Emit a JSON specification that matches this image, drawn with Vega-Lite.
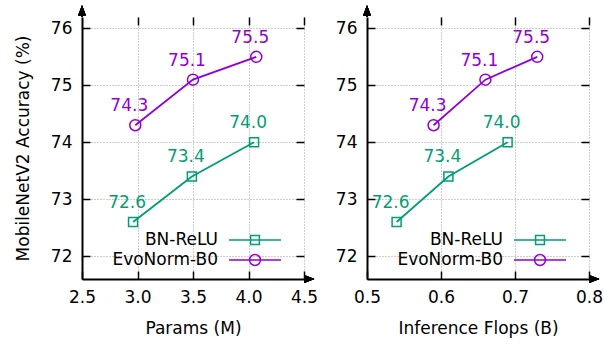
{
  "$schema": "https://vega.github.io/schema/vega-lite/v6.json",
  "padding": {"left": 14, "top": 5, "right": 5, "bottom": 5},
  "background": "white",
  "config": {
    "font": "DejaVu Sans",
    "view": {"stroke": null},
    "axis": {
      "labelFont": "DejaVu Sans", "labelFontSize": 17, "labelColor": "#000", "labelFlush": false, "labelOverlap": false,
      "titleFont": "DejaVu Sans", "titleFontSize": 17, "titleFontWeight": "normal", "titleColor": "#000",
      "domainColor": "#000", "domainWidth": 2, "tickColor": "#000", "tickWidth": 1.5,
      "gridColor": "#9a9a9a", "gridDash": [1, 2], "gridWidth": 1, "gridOpacity": 1
    },
    "legend": {
      "orient": "none", "title": null, "symbolSize": 2704, "symbolStrokeWidth": 1.5, "symbolFillColor": "transparent",
      "labelAlign": "right", "labelOffset": -64, "labelFont": "DejaVu Sans", "labelFontSize": 17, "labelColor": "#000",
      "padding": 0, "labelLimit": 300
    },
    "text": {"font": "DejaVu Sans"}
  },
  "data": {
    "values": [
      {"series": "BN-ReLU", "params": 2.96, "flops": 0.54, "acc": 72.6},
      {"series": "BN-ReLU", "params": 3.49, "flops": 0.61, "acc": 73.4},
      {"series": "BN-ReLU", "params": 4.05, "flops": 0.69, "acc": 74.0},
      {"series": "EvoNorm-B0", "params": 2.98, "flops": 0.59, "acc": 74.3},
      {"series": "EvoNorm-B0", "params": 3.50, "flops": 0.66, "acc": 75.1},
      {"series": "EvoNorm-B0", "params": 4.07, "flops": 0.73, "acc": 75.5}
    ]
  },
  "spacing": 17,
  "resolve": {"scale": {"color": "independent", "stroke": "independent"}, "legend": {"color": "independent", "stroke": "independent"}},
  "hconcat": [
    {
      "width": 222, "height": 262,
      "resolve": {"axis": {"x": "independent", "y": "independent"}},
      "layer": [
        {
          "transform": [{"filter": "datum.series === 'BN-ReLU'"}],
          "mark": {"type": "line", "strokeWidth": 1.8},
          "encoding": {
            "x": {"field": "params", "type": "quantitative", "scale": {"domain": [2.5, 4.5], "nice": false, "zero": false},
                  "axis": {"title": "Params (M)", "orient": "bottom", "values": [2.5, 3, 3.5, 4, 4.5], "format": ".1f", "grid": true, "tickSize": -8, "labelPadding": 18, "titlePadding": 15}},
            "y": {"field": "acc", "type": "quantitative", "scale": {"domain": [71.6, 76.2], "nice": false, "zero": false},
                  "axis": {"title": "MobileNetV2 Accuracy (%)", "orient": "left", "values": [72, 73, 74, 75, 76], "grid": true, "tickSize": -8, "labelPadding": 18, "titlePadding": 18}},
            "color": {"field": "series", "type": "nominal", "scale": {"domain": ["BN-ReLU"], "range": ["#009e73"]},
                      "legend": {"legendX": 146, "legendY": 196, "symbolType": "M-1,0H1M-0.17,-0.17H0.17V0.17H-0.17Z"}}
          }
        },
        {
          "transform": [{"filter": "datum.series === 'EvoNorm-B0'"}],
          "mark": {"type": "line", "strokeWidth": 1.8},
          "encoding": {
            "x": {"field": "params", "type": "quantitative", "axis": null},
            "y": {"field": "acc", "type": "quantitative", "axis": null},
            "stroke": {"field": "series", "type": "nominal", "scale": {"domain": ["EvoNorm-B0"], "range": ["#9400d3"]},
                      "legend": {"legendX": 146, "legendY": 216, "symbolType": "M-1,0H1M0.21,0A0.21,0.21,0,1,1,-0.21,0A0.21,0.21,0,1,1,0.21,0"}}
          }
        },
        {
          "mark": {"type": "point", "filled": false, "strokeWidth": 1.5, "opacity": 1},
          "encoding": {
            "x": {"field": "params", "type": "quantitative", "axis": {"orient": "top", "title": null, "labels": false, "domain": false, "grid": false, "values": [3, 3.5, 4, 4.5], "tickSize": -8}},
            "y": {"field": "acc", "type": "quantitative", "axis": {"orient": "right", "title": null, "labels": false, "domain": false, "grid": false, "values": [72, 73, 74, 75, 76], "tickSize": -8}},
            "color": {"condition": {"test": "datum.series === 'BN-ReLU'", "value": "#009e73"}, "value": "#9400d3"},
            "shape": {"condition": {"test": "datum.series === 'BN-ReLU'", "value": "square"}, "value": "circle"},
            "size": {"condition": {"test": "datum.series === 'BN-ReLU'", "value": 81}, "value": 121}
          }
        },
        {
          "mark": {"type": "text", "dx": -6, "dy": -14, "baseline": "alphabetic", "align": "center", "fontSize": 17},
          "encoding": {
            "x": {"field": "params", "type": "quantitative", "axis": null},
            "y": {"field": "acc", "type": "quantitative", "axis": null},
            "text": {"field": "acc", "type": "quantitative", "format": ".1f"},
            "color": {"condition": {"test": "datum.series === 'BN-ReLU'", "value": "#009e73"}, "value": "#9400d3"}
          }
        },
        {
          "mark": {"type": "rule", "strokeWidth": 2, "color": "#000"},
          "encoding": {"x": {"datum": 2.5, "type": "quantitative", "axis": null}, "y": {"datum": 76.2, "type": "quantitative", "axis": null}, "y2": {"datum": 76.33}}
        },
        {
          "mark": {"type": "point", "shape": "M0,-0.9L0.65,0.8L-0.65,0.8Z", "filled": true, "color": "#000", "size": 144, "opacity": 1},
          "encoding": {"x": {"datum": 2.5, "type": "quantitative", "axis": null}, "y": {"datum": 76.31, "type": "quantitative", "axis": null}}
        },
        {
          "mark": {"type": "rule", "strokeWidth": 2, "color": "#000"},
          "encoding": {"x": {"datum": 4.5, "type": "quantitative", "axis": null}, "x2": {"datum": 4.536}, "y": {"datum": 71.6, "type": "quantitative", "axis": null}}
        },
        {
          "mark": {"type": "point", "shape": "M0.9,0L-0.8,0.65L-0.8,-0.65Z", "filled": true, "color": "#000", "size": 144, "opacity": 1},
          "encoding": {"x": {"datum": 4.545, "type": "quantitative", "axis": null}, "y": {"datum": 71.6, "type": "quantitative", "axis": null}}
        }
      ]
    },
    {
      "width": 222, "height": 262,
      "resolve": {"axis": {"x": "independent", "y": "independent"}},
      "layer": [
        {
          "transform": [{"filter": "datum.series === 'BN-ReLU'"}],
          "mark": {"type": "line", "strokeWidth": 1.8},
          "encoding": {
            "x": {"field": "flops", "type": "quantitative", "scale": {"domain": [0.5, 0.8], "nice": false, "zero": false},
                  "axis": {"title": "Inference Flops (B)", "orient": "bottom", "values": [0.5, 0.6, 0.7, 0.8], "format": ".1f", "grid": true, "tickSize": -8, "labelPadding": 18, "titlePadding": 15}},
            "y": {"field": "acc", "type": "quantitative", "scale": {"domain": [71.6, 76.2], "nice": false, "zero": false},
                  "axis": {"title": null, "orient": "left", "values": [72, 73, 74, 75, 76], "grid": true, "tickSize": -8, "labelPadding": 18}},
            "color": {"field": "series", "type": "nominal", "scale": {"domain": ["BN-ReLU"], "range": ["#009e73"]},
                      "legend": {"legendX": 146, "legendY": 196, "symbolType": "M-1,0H1M-0.17,-0.17H0.17V0.17H-0.17Z"}}
          }
        },
        {
          "transform": [{"filter": "datum.series === 'EvoNorm-B0'"}],
          "mark": {"type": "line", "strokeWidth": 1.8},
          "encoding": {
            "x": {"field": "flops", "type": "quantitative", "axis": null},
            "y": {"field": "acc", "type": "quantitative", "axis": null},
            "stroke": {"field": "series", "type": "nominal", "scale": {"domain": ["EvoNorm-B0"], "range": ["#9400d3"]},
                      "legend": {"legendX": 146, "legendY": 216, "symbolType": "M-1,0H1M0.21,0A0.21,0.21,0,1,1,-0.21,0A0.21,0.21,0,1,1,0.21,0"}}
          }
        },
        {
          "mark": {"type": "point", "filled": false, "strokeWidth": 1.5, "opacity": 1},
          "encoding": {
            "x": {"field": "flops", "type": "quantitative", "axis": {"orient": "top", "title": null, "labels": false, "domain": false, "grid": false, "values": [0.6, 0.7, 0.8], "tickSize": -8}},
            "y": {"field": "acc", "type": "quantitative", "axis": {"orient": "right", "title": null, "labels": false, "domain": false, "grid": false, "values": [72, 73, 74, 75, 76], "tickSize": -8}},
            "color": {"condition": {"test": "datum.series === 'BN-ReLU'", "value": "#009e73"}, "value": "#9400d3"},
            "shape": {"condition": {"test": "datum.series === 'BN-ReLU'", "value": "square"}, "value": "circle"},
            "size": {"condition": {"test": "datum.series === 'BN-ReLU'", "value": 81}, "value": 121}
          }
        },
        {
          "mark": {"type": "text", "dx": -6, "dy": -14, "baseline": "alphabetic", "align": "center", "fontSize": 17},
          "encoding": {
            "x": {"field": "flops", "type": "quantitative", "axis": null},
            "y": {"field": "acc", "type": "quantitative", "axis": null},
            "text": {"field": "acc", "type": "quantitative", "format": ".1f"},
            "color": {"condition": {"test": "datum.series === 'BN-ReLU'", "value": "#009e73"}, "value": "#9400d3"}
          }
        },
        {
          "mark": {"type": "rule", "strokeWidth": 2, "color": "#000"},
          "encoding": {"x": {"datum": 0.5, "type": "quantitative", "axis": null}, "y": {"datum": 76.2, "type": "quantitative", "axis": null}, "y2": {"datum": 76.33}}
        },
        {
          "mark": {"type": "point", "shape": "M0,-0.9L0.65,0.8L-0.65,0.8Z", "filled": true, "color": "#000", "size": 144, "opacity": 1},
          "encoding": {"x": {"datum": 0.5, "type": "quantitative", "axis": null}, "y": {"datum": 76.31, "type": "quantitative", "axis": null}}
        },
        {
          "mark": {"type": "rule", "strokeWidth": 2, "color": "#000"},
          "encoding": {"x": {"datum": 0.8, "type": "quantitative", "axis": null}, "x2": {"datum": 0.8054}, "y": {"datum": 71.6, "type": "quantitative", "axis": null}}
        },
        {
          "mark": {"type": "point", "shape": "M0.9,0L-0.8,0.65L-0.8,-0.65Z", "filled": true, "color": "#000", "size": 144, "opacity": 1},
          "encoding": {"x": {"datum": 0.80676, "type": "quantitative", "axis": null}, "y": {"datum": 71.6, "type": "quantitative", "axis": null}}
        }
      ]
    }
  ]
}
